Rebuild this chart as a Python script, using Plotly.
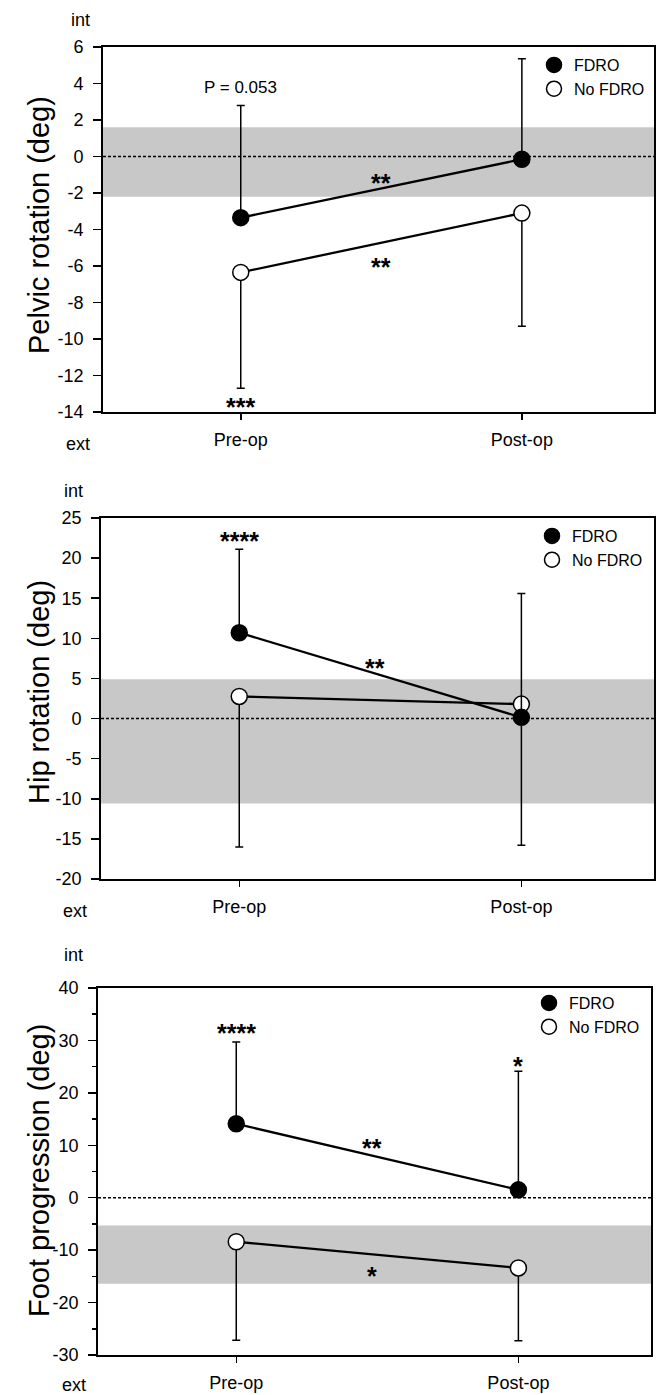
import plotly.graph_objects as go

W, H = 662, 1395

categories = ["Pre-op", "Post-op"]
x_pos = [0, 1]

# Panel 1: Pelvic rotation
pelvic_fdro = [-3.35, -0.15]
pelvic_fdro_upper = [2.8, 5.35]
pelvic_nofdro = [-6.35, -3.1]
pelvic_nofdro_lower = [-12.7, -9.3]
pelvic_band = [-2.2, 1.6]
pelvic_ticks = [6, 4, 2, 0, -2, -4, -6, -8, -10, -12, -14]

# Panel 2: Hip rotation
hip_fdro = [10.7, 0.15]
hip_fdro_upper = [21.1, 15.6]
hip_nofdro = [2.75, 1.8]
hip_nofdro_lower = [-16.0, -15.8]
hip_band = [-10.6, 4.9]
hip_ticks = [25, 20, 15, 10, 5, 0, -5, -10, -15, -20]

# Panel 3: Foot progression
foot_fdro = [14.1, 1.5]
foot_fdro_upper = [29.7, 24.1]
foot_nofdro = [-8.4, -13.4]
foot_nofdro_lower = [-27.2, -27.3]
foot_band = [-16.4, -5.3]
foot_ticks = [40, 30, 20, 10, 0, -10, -20, -30]

panels = [
    dict(title="Pelvic rotation (deg)", fdro=pelvic_fdro, up=pelvic_fdro_upper,
         nof=pelvic_nofdro, lo=pelvic_nofdro_lower, band=pelvic_band, ticks=pelvic_ticks,
         yrange=[-14, 6], minor=None, px=(103, 654, 47, 412), title_y=225,
         int_xy=(80, 20), ext_xy=(78, 444), leg=(534, 48),
         notes=[("P = 0.053", 0, 3.8, 17), ("**", 0.5, -1.1, 25), ("**", 0.5, -5.7, 25), ("***", 0, -13.4, 25)]),
    dict(title="Hip rotation (deg)", fdro=hip_fdro, up=hip_fdro_upper,
         nof=hip_nofdro, lo=hip_nofdro_lower, band=hip_band, ticks=hip_ticks,
         yrange=[-20, 25], minor=None, px=(101, 654, 518, 879), title_y=692,
         int_xy=(73, 491), ext_xy=(75, 911), leg=(532, 519),
         notes=[("****", 0, 22.9, 25), ("**", 0.48, 7.1, 25)]),
    dict(title="Foot progression (deg)", fdro=foot_fdro, up=foot_fdro_upper,
         nof=foot_nofdro, lo=foot_nofdro_lower, band=foot_band, ticks=foot_ticks,
         yrange=[-30, 40], minor=5, px=(98, 651, 988, 1355), title_y=1171,
         int_xy=(73, 955), ext_xy=(74, 1385), leg=(529, 986),
         notes=[("****", 0, 32.6, 25), ("*", 1, 26.2, 25), ("**", 0.48, 10.6, 25), ("*", 0.48, -13.8, 25)]),
]

FONT = "Liberation Sans, Arial, Helvetica, sans-serif"
fig = go.Figure()
layout = dict(width=W, height=H, margin=dict(l=0, r=0, t=0, b=0, autoexpand=False),
              paper_bgcolor="white", plot_bgcolor="white",
              font=dict(family=FONT, color="black"))
shapes, annotations = [], []


def lab(v):
    return ("-" + str(abs(v))) if v < 0 else str(v)


for i, p in enumerate(panels):
    n = "" if i == 0 else str(i + 1)
    xa, ya = "x" + n, "y" + n
    leg = "legend" + n
    x0, x1, yt, yb = p["px"]
    layout["xaxis" + n] = dict(
        domain=[x0 / W, x1 / W], anchor=ya, range=[-0.49, 1.47],
        tickmode="array", tickvals=x_pos, ticktext=categories,
        ticks="outside", ticklen=6, tickwidth=1.5, tickcolor="black",
        showline=True, linewidth=1.8, linecolor="black", mirror=True,
        showgrid=False, zeroline=False, tickfont=dict(size=18, color="black"),
        ticklabelstandoff=5, automargin=False)
    yax = dict(
        domain=[1 - yb / H, 1 - yt / H], anchor=xa, range=p["yrange"],
        tickmode="array", tickvals=p["ticks"], ticktext=[lab(v) for v in p["ticks"]],
        ticks="outside", ticklen=8, tickwidth=1.5, tickcolor="black",
        showline=True, linewidth=1.8, linecolor="black", mirror=True,
        showgrid=False, zeroline=False, tickfont=dict(size=18, color="black"),
        ticklabelstandoff=6, automargin=False)
    if p["minor"]:
        yax["minor"] = dict(dtick=p["minor"], ticks="outside", ticklen=4,
                            tickwidth=1.5, tickcolor="black", showgrid=False)
    layout["yaxis" + n] = yax
    lx, ly = p["leg"]
    layout[leg] = dict(x=lx / W, y=1 - ly / H, xanchor="left", yanchor="top",
                       bgcolor="rgba(0,0,0,0)", font=dict(size=16, color="black"),
                       itemwidth=30, tracegroupgap=0, traceorder="normal")

    # normal band
    shapes.append(dict(type="rect", xref=xa + " domain", yref=ya, x0=0, x1=1,
                       y0=p["band"][0], y1=p["band"][1], fillcolor="#c8c8c8",
                       line=dict(width=0), layer="below"))
    # zero dashed line
    shapes.append(dict(type="line", xref=xa + " domain", yref=ya, x0=0, x1=1, y0=0, y1=0,
                       line=dict(color="black", width=1.5, dash="3px,2px"), layer="above"))
    # x-axis line extension to the left
    shapes.append(dict(type="line", xref=xa + " domain", yref=ya + " domain",
                       x0=-10 / (x1 - x0), x1=0, y0=0, y1=0,
                       line=dict(color="black", width=1.8)))

    err_up = [u - m for u, m in zip(p["up"], p["fdro"])]
    err_lo = [m - l for l, m in zip(p["lo"], p["nof"])]

    fig.add_trace(go.Scatter(
        x=x_pos, y=p["nof"], xaxis=xa, yaxis=ya, mode="lines+markers", name="No FDRO",
        showlegend=False, hoverinfo="skip", line=dict(color="black", width=2.3),
        marker=dict(size=16, color="white", line=dict(color="black", width=1.5)),
        error_y=dict(type="data", symmetric=False, array=[0, 0], arrayminus=err_lo,
                     color="black", thickness=1.5, width=4)))
    fig.add_trace(go.Scatter(
        x=x_pos, y=p["fdro"], xaxis=xa, yaxis=ya, mode="lines+markers", name="FDRO",
        showlegend=False, hoverinfo="skip", line=dict(color="black", width=2.3),
        marker=dict(size=16, color="black", line=dict(color="black", width=1.5)),
        error_y=dict(type="data", symmetric=False, array=err_up, arrayminus=[0, 0],
                     color="black", thickness=1.5, width=4)))
    # legend entries (marker only)
    fig.add_trace(go.Scatter(
        x=[None], y=[None], xaxis=xa, yaxis=ya, mode="markers", name="FDRO", legend=leg,
        marker=dict(size=15, color="black", line=dict(color="black", width=1.5))))
    fig.add_trace(go.Scatter(
        x=[None], y=[None], xaxis=xa, yaxis=ya, mode="markers", name="No FDRO", legend=leg,
        marker=dict(size=15, color="white", line=dict(color="black", width=1.5))))

    for txt, ax_x, ax_y, sz in p["notes"]:
        is_star = "*" in txt
        annotations.append(dict(text=("<b>" + txt + "</b>") if is_star else txt,
                                x=ax_x, y=ax_y, xref=xa, yref=ya, showarrow=False,
                                xanchor="center", yanchor="middle",
                                font=dict(size=sz, color="black"),
                                yshift=(-6 if is_star else 0)))

    # y title
    annotations.append(dict(text=p["title"], x=39 / W, y=1 - p["title_y"] / H,
                            xref="paper", yref="paper", showarrow=False, textangle=-90,
                            xanchor="center", yanchor="middle",
                            font=dict(size=29, color="black")))
    # int / ext
    for txt, (tx, ty) in (("int", p["int_xy"]), ("ext", p["ext_xy"])):
        annotations.append(dict(text=txt, x=tx / W, y=1 - ty / H, xref="paper", yref="paper",
                                showarrow=False, xanchor="center", yanchor="middle",
                                font=dict(size=18, color="black")))

layout["shapes"] = shapes
layout["annotations"] = annotations
fig.update_layout(**layout)
fig.write_html("out.html", config={"displayModeBar": False, "staticPlot": True},
               post_script="document.body.style.margin='0px';document.body.style.overflow='hidden';")
